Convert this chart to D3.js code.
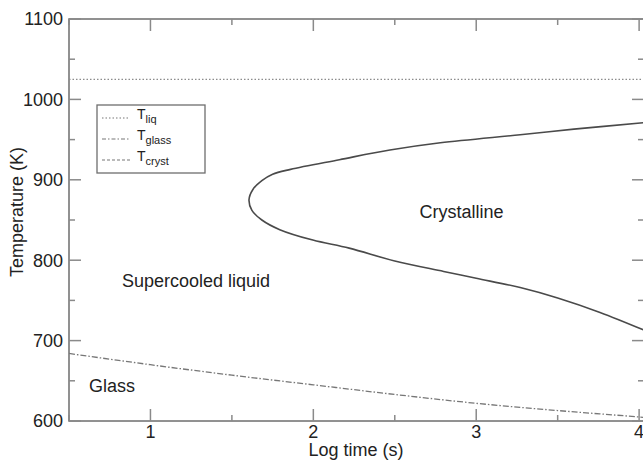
<!DOCTYPE html>
<html>
<head>
<meta charset="utf-8">
<script src="https://cdn.jsdelivr.net/npm/d3@7"></script>
<style>
  html, body { margin: 0; padding: 0; background: #fff; }
  svg { display: block; font-family: "Liberation Sans", Arial, sans-serif; }
</style>
</head>
<body>
<svg id="chart" width="643" height="461"></svg>
<script>
// ---- Data ----
const xTicksMajor = [1, 2, 3, 4];
const xTicksMinor = [0.5, 1.5, 2.5, 3.5];
const yTicksMajor = [600, 700, 800, 900, 1000, 1100];
const yTicksMinor = [650, 750, 850, 950, 1050];

const tLiq = 1025;

const glassLogT = [0.5, 1.0, 1.5, 2.0, 2.5, 3.0, 3.5, 4.0, 4.03];
const glassT    = [684, 670, 657, 645, 633, 622, 613, 605, 604.5];

const crystLogT = [4.03, 3.6, 3.27, 2.78, 2.47, 2.16, 1.86, 1.75, 1.684, 1.629, 1.605, 1.623, 1.684, 1.794, 1.997, 2.22, 2.5, 2.8, 3.0, 3.27, 3.5, 3.76, 4.03];
const crystT    = [971, 963, 956, 946, 937, 925, 913, 907, 899, 888, 875, 862, 850, 838, 825, 815, 799, 786, 777.5, 766, 753, 735, 713];

const legendLabels = [["T", "liq"], ["T", "glass"], ["T", "cryst"]];
const regionLabels = ["Supercooled liquid", "Crystalline", "Glass"];
const regionPos = [[1.28, 767], [2.91, 853], [0.623, 636]];

// ---- Layout ----
const svg = d3.select("#chart");
const mL = 69, mR = 644, mT = 19, mB = 421;
const x = d3.scaleLinear().domain([0.5, 4.03]).range([mL, mR]);
const y = d3.scaleLinear().domain([600, 1100]).range([mB, mT]);
const axisColor = "#6e6e6e";

// frame
svg.append("rect").attr("x", mL).attr("y", mT)
  .attr("width", mR - mL).attr("height", mB - mT)
  .attr("fill", "none").attr("stroke", axisColor).attr("stroke-width", 1.5);

// ticks (inward) on all four sides
const tickG = svg.append("g").attr("stroke", "#8a8a8a").attr("stroke-width", 1.5);
function xt(v, len) {
  tickG.append("line").attr("x1", x(v)).attr("x2", x(v)).attr("y1", mB).attr("y2", mB - len);
  tickG.append("line").attr("x1", x(v)).attr("x2", x(v)).attr("y1", mT).attr("y2", mT + len);
}
function yt(v, len) {
  tickG.append("line").attr("y1", y(v)).attr("y2", y(v)).attr("x1", mL).attr("x2", mL + len);
  tickG.append("line").attr("y1", y(v)).attr("y2", y(v)).attr("x1", mR).attr("x2", mR - len);
}
xTicksMajor.forEach(v => xt(v, 12));
xTicksMinor.forEach(v => xt(v, 6));
yTicksMajor.forEach(v => yt(v, 12));
yTicksMinor.forEach(v => yt(v, 6));

// tick labels
const txtColor = "#222";
svg.append("g").selectAll("text").data(xTicksMajor).join("text")
  .attr("x", d => x(d)).attr("y", 438).attr("text-anchor", "middle")
  .attr("font-size", 18).attr("fill", txtColor).text(d => d);
svg.append("g").selectAll("text").data(yTicksMajor).join("text")
  .attr("x", 63).attr("y", d => y(d)).attr("dy", "0.35em").attr("text-anchor", "end")
  .attr("font-size", 18).attr("fill", txtColor).text(d => d);

// axis titles
svg.append("text").attr("x", 356).attr("y", 456).attr("text-anchor", "middle")
  .attr("font-size", 18).attr("fill", txtColor).text("Log time (s)");
svg.append("text").attr("transform", `translate(23,212) rotate(-90)`)
  .attr("text-anchor", "middle").attr("font-size", 18).attr("fill", txtColor).text("Temperature (K)");

// clip
svg.append("clipPath").attr("id", "clip").append("rect")
  .attr("x", mL).attr("y", mT).attr("width", mR - mL).attr("height", mB - mT);
const plot = svg.append("g").attr("clip-path", "url(#clip)");

// T_liq
plot.append("line").attr("x1", mL).attr("x2", mR).attr("y1", y(tLiq)).attr("y2", y(tLiq))
  .attr("stroke", "#8c8c8c").attr("stroke-width", 1.2).attr("stroke-dasharray", "1.5,2");

// T_glass
plot.append("path").datum(glassLogT.map((v, i) => [v, glassT[i]]))
  .attr("d", d3.line().x(d => x(d[0])).y(d => y(d[1])).curve(d3.curveMonotoneX))
  .attr("fill", "none")
  .attr("stroke", "#777").attr("stroke-width", 1.3).attr("stroke-dasharray", "6,2,1.5,2");

// T_cryst
plot.append("path").datum(crystLogT.map((v, i) => [v, crystT[i]]))
  .attr("d", d3.line().x(d => x(d[0])).y(d => y(d[1])).curve(d3.curveCatmullRom.alpha(0.5)))
  .attr("fill", "none").attr("stroke", "#4a4a4a").attr("stroke-width", 1.6);

// region labels
svg.append("g").selectAll("text").data(regionLabels).join("text")
  .attr("x", (d, i) => x(regionPos[i][0])).attr("y", (d, i) => y(regionPos[i][1]))
  .attr("text-anchor", (d, i) => i === 2 ? "start" : "middle")
  .attr("font-size", 18).attr("fill", txtColor).text(d => d);

// legend
const lg = svg.append("g");
lg.append("rect").attr("x", 97).attr("y", 105).attr("width", 108).attr("height", 68)
  .attr("fill", "#fff").attr("stroke", axisColor).attr("stroke-width", 1.3);
const dashes = ["1.5,2", "4,2,1.5,2", "3,2"];
legendLabels.forEach((lab, i) => {
  const yy = 118 + i * 21;
  lg.append("line").attr("x1", 102).attr("x2", 130).attr("y1", yy).attr("y2", yy)
    .attr("stroke", "#777").attr("stroke-width", 1.2).attr("stroke-dasharray", dashes[i]);
  const t = lg.append("text").attr("x", 137).attr("y", yy + 1).attr("font-size", 14).attr("fill", txtColor);
  t.append("tspan").text(lab[0]);
  t.append("tspan").attr("dy", 4).attr("font-size", 11).text(lab[1]);
});
</script>
</body>
</html>
